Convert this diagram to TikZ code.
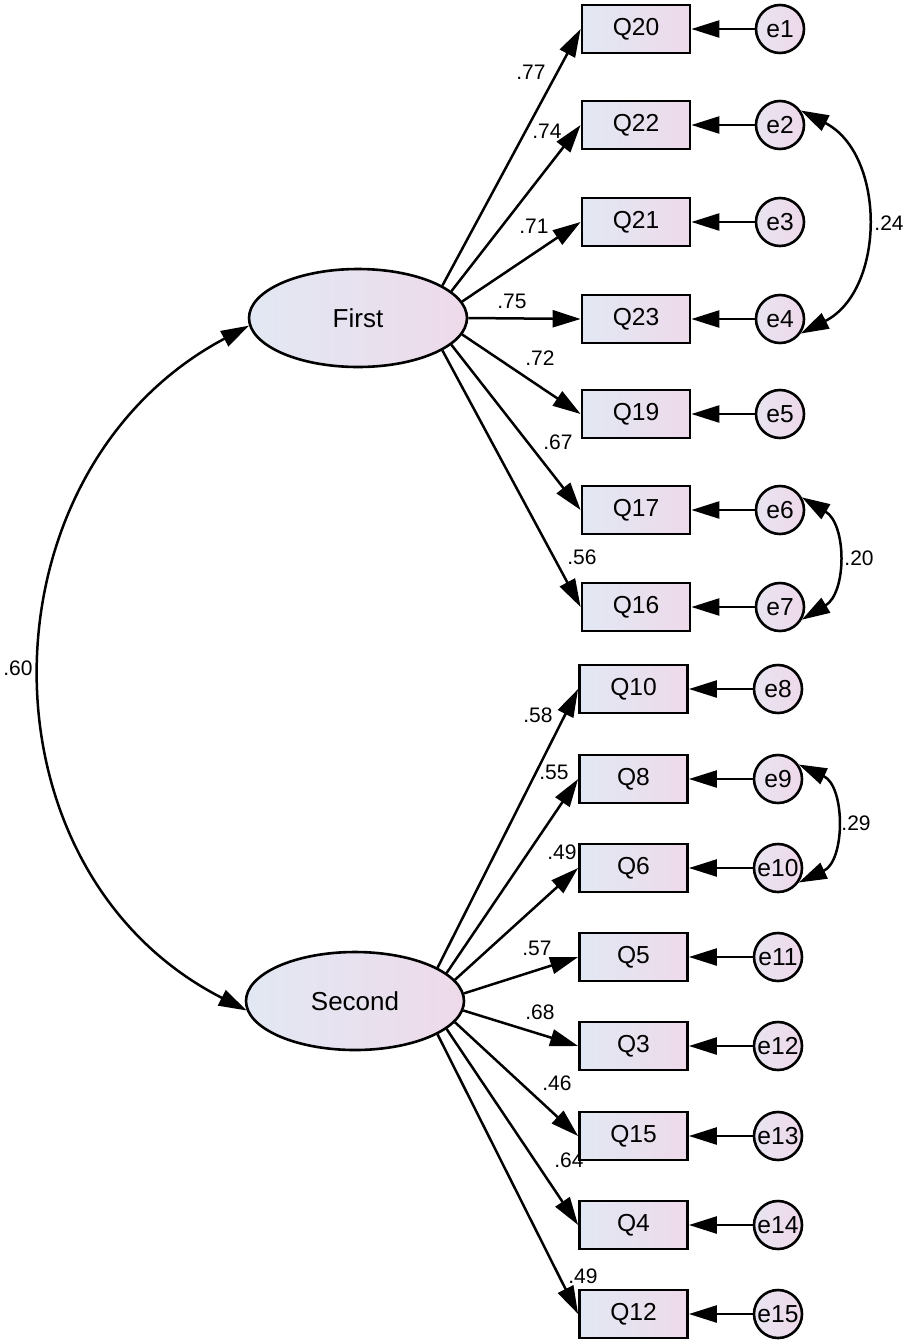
\documentclass[tikz,border=0pt]{standalone}
\usepackage{fontspec}
\setmainfont{Liberation Sans}
\usetikzlibrary{arrows.meta,shapes.geometric}
\definecolor{shadeL}{RGB}{226,232,243}
\definecolor{shadeR}{RGB}{238,218,234}
\definecolor{errL}{RGB}{232,228,240}
\definecolor{errR}{RGB}{238,216,234}
\begin{document}
\begin{tikzpicture}[x=0.5pt,y=0.5pt,
  obs/.style={draw, rectangle, line width=1.4pt, minimum width=54pt, minimum height=24pt, inner sep=0pt, left color=shadeL, right color=shadeR, font=\fontsize{12.3}{14}\selectfont},
  lat/.style={draw, ellipse, line width=1.3pt, minimum width=109pt, minimum height=49pt, inner sep=0pt, left color=shadeL, right color=shadeR, font=\fontsize{13}{15}\selectfont},
  err/.style={draw, circle, line width=1.3pt, minimum size=24pt, inner sep=0pt, left color=errL, right color=errR, font=\fontsize{12.3}{14}\selectfont},
  val/.style={inner sep=0pt, font=\fontsize{10.5}{12}\selectfont},
  arr/.style={line width=1.25pt, -{Triangle[length=14pt,width=8.5pt]}},
  cov/.style={line width=1.25pt, {Triangle[length=14pt,width=8.5pt]}-{Triangle[length=14pt,width=8.5pt]}}
]
\useasboundingbox (0,0) rectangle (906,-1344);

% latent variables
\node[lat] (first) at (358,-318) {First};
\node[lat] (second) at (355,-1001) {Second};

% observed (top group)
\node[obs] (Q20) at (636,-29) {Q20};
\node[obs] (Q22) at (636,-125) {Q22};
\node[obs] (Q21) at (636,-222) {Q21};
\node[obs] (Q23) at (636,-319) {Q23};
\node[obs] (Q19) at (636,-414) {Q19};
\node[obs] (Q17) at (636,-510) {Q17};
\node[obs] (Q16) at (636,-607) {Q16};
% observed (bottom group)
\node[obs] (Q10) at (633.5,-689) {Q10};
\node[obs] (Q8) at (633.5,-779) {Q8};
\node[obs] (Q6) at (633.5,-868) {Q6};
\node[obs] (Q5) at (633.5,-957) {Q5};
\node[obs] (Q3) at (633.5,-1046) {Q3};
\node[obs] (Q15) at (633.5,-1136) {Q15};
\node[obs] (Q4) at (633.5,-1225) {Q4};
\node[obs] (Q12) at (633.5,-1314) {Q12};

% errors
\node[err] (e1) at (780,-29) {e1};
\node[err] (e2) at (780,-125) {e2};
\node[err] (e3) at (780,-222) {e3};
\node[err] (e4) at (780,-319) {e4};
\node[err] (e5) at (780,-414) {e5};
\node[err] (e6) at (780,-510) {e6};
\node[err] (e7) at (780,-607) {e7};
\node[err] (e8) at (778,-689) {e8};
\node[err] (e9) at (778,-779) {e9};
\node[err] (e10) at (778,-868) {e10};
\node[err] (e11) at (778,-957) {e11};
\node[err] (e12) at (778,-1046) {e12};
\node[err] (e13) at (778,-1136) {e13};
\node[err] (e14) at (778,-1225) {e14};
\node[err] (e15) at (778,-1314) {e15};

% loadings First
\draw[arr] (first.21) -- (Q20.west);
\draw[arr] (first.16) -- (Q22.west);
\draw[arr] (first.9) -- (Q21.west);
\draw[arr] (first.0) -- (Q23.west);
\draw[arr] (first.-9) -- (Q19.west);
\draw[arr] (first.-16) -- (Q17.west);
\draw[arr] (first.-21) -- (Q16.west);
% loadings Second
\draw[arr] (second.22) -- (Q10.west);
\draw[arr] (second.17) -- (Q8.west);
\draw[arr] (second.12) -- (Q6.west);
\draw[arr] (second.4) -- (Q5.west);
\draw[arr] (second.-5) -- (Q3.west);
\draw[arr] (second.-12) -- (Q15.west);
\draw[arr] (second.-17) -- (Q4.west);
\draw[arr] (second.-22) -- (Q12.west);

% error paths
\foreach \e/\q in {e1/Q20,e2/Q22,e3/Q21,e4/Q23,e5/Q19,e6/Q17,e7/Q16,e8/Q10,e9/Q8,e10/Q6,e11/Q5,e12/Q3,e13/Q15,e14/Q4,e15/Q12}
  \draw[arr] (\e) -- (\q);

% covariances
\draw[cov] (first.184) to[out=208,in=153,looseness=1.15] (second.185);
\draw[cov] (e2.35) to[out=-27,in=27,looseness=1.1] (e4.-35);
\draw[cov] (e6.30) to[out=-31,in=31,looseness=1.1] (e7.-30);
\draw[cov] (e9.35) to[out=-25,in=25,looseness=1.12] (e10.-35);

% values
\node[val] (v1) at (531,-72) {.77};
\node[val] (v2) at (547,-131) {.74};
\node[val] (v3) at (534,-226) {.71};
\node[val] (v4) at (512,-301) {.75};
\node[val] (v5) at (540,-358) {.72};
\node[val] (v6) at (558,-442) {.67};
\node[val] (v7) at (582,-557) {.56};
\node[val] (v8) at (538,-715) {.58};
\node[val] (v9) at (554,-772) {.55};
\node[val] (v10) at (562,-852) {.49};
\node[val] (v11) at (537,-948) {.57};
\node[val] (v12) at (540,-1012) {.68};
\node[val] (v13) at (557,-1083) {.46};
\node[val] (v14) at (569,-1160) {.64};
\node[val] (v15) at (583,-1276) {.49};
\node[val] (c1) at (889,-223) {.24};
\node[val] (c2) at (859,-558) {.20};
\node[val] (c3) at (856,-823) {.29};
\node[val] (c4) at (18,-668) {.60};
\end{tikzpicture}
\end{document}
